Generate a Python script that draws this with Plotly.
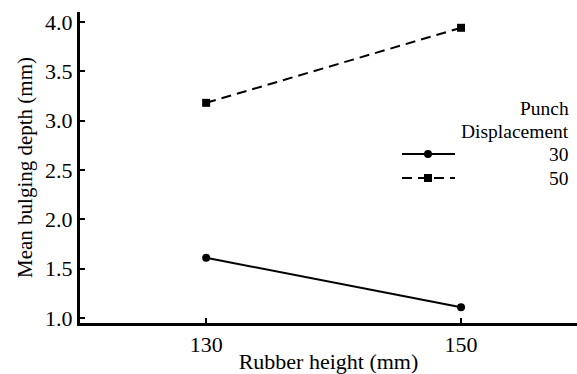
import plotly.graph_objects as go

rubber_height = [130, 150]
depth_30 = [1.61, 1.11]
depth_50 = [3.18, 3.94]
series_names = ["30", "50"]
legend_title = ["Punch", "Displacement"]
y_ticks = [1.0, 1.5, 2.0, 2.5, 3.0, 3.5, 4.0]

FONT = "Liberation Serif"
W, H = 577, 374
L, R, T, B = 80, 0, 12, 51
pw, ph = W - L - R, H - T - B

def px(x):
    return (x - L) / pw

def py(y):
    return (H - B - y) / ph

fig = go.Figure()
fig.add_trace(go.Scatter(x=rubber_height, y=depth_30, mode="lines+markers",
                         line=dict(color="black", width=2),
                         marker=dict(symbol="circle", size=8, color="black"),
                         name=series_names[0], showlegend=False))
fig.add_trace(go.Scatter(x=rubber_height, y=depth_50, mode="lines+markers",
                         line=dict(color="black", width=2, dash="10px,6px"),
                         marker=dict(symbol="square", size=8, color="black"),
                         name=series_names[1], showlegend=False))

LEG = 19.5
shapes = []
annotations = []
for txt, yy in zip(legend_title, [108, 131]):
    annotations.append(dict(text=txt, x=px(571), y=py(yy), xref="paper", yref="paper",
                            xanchor="right", yanchor="middle", showarrow=False,
                            font=dict(family=FONT, size=LEG, color="black")))
for nm, yy, dash, sym in [(series_names[0], 154, "solid", "circle"),
                          (series_names[1], 178, "10px,6px", "square")]:
    shapes.append(dict(type="line", xref="paper", yref="paper",
                       x0=px(402), x1=px(455), y0=py(yy), y1=py(yy),
                       line=dict(color="black", width=2, dash=dash)))
    shapes.append(dict(type="circle" if sym == "circle" else "rect",
                       xref="paper", yref="paper",
                       x0=px(424), x1=px(432), y0=py(yy + 4), y1=py(yy - 4),
                       fillcolor="black", line=dict(color="black", width=0)))
    annotations.append(dict(text=nm, x=px(571), y=py(yy), xref="paper", yref="paper",
                            xanchor="right", yanchor="middle", showarrow=False,
                            font=dict(family=FONT, size=LEG, color="black")))

fig.update_layout(
    width=W, height=H,
    margin=dict(l=L, r=R, t=T, b=B),
    paper_bgcolor="white", plot_bgcolor="white",
    font=dict(family=FONT, size=22, color="black"),
    shapes=shapes, annotations=annotations,
    xaxis=dict(range=[120.1, 159.1], tickvals=rubber_height,
               ticktext=[str(v) for v in rubber_height],
               showline=True, linecolor="black", linewidth=3,
               ticks="inside", ticklen=5, tickwidth=2, tickcolor="black",
               tickfont=dict(family=FONT, size=22), automargin=False,
               showgrid=False, zeroline=False,
               title=dict(text="Rubber height (mm)", standoff=13,
                          font=dict(family=FONT, size=22))),
    yaxis=dict(range=[0.95, 4.1], tickvals=y_ticks,
               ticktext=[f"{v:.1f}" for v in y_ticks],
               showline=True, linecolor="black", linewidth=3,
               ticks="inside", ticklen=5, tickwidth=2, tickcolor="black",
               tickfont=dict(family=FONT, size=22), automargin=False,
               showgrid=False, zeroline=False,
               title=dict(text="Mean bulging depth (mm)", standoff=7,
                          font=dict(family=FONT, size=21))),
)

fig.write_html("out.html")
